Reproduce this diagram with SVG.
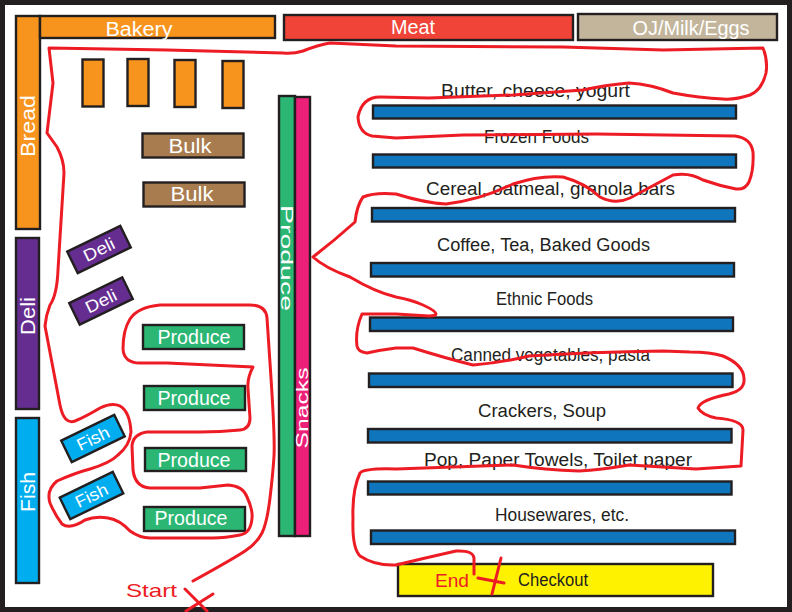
<svg xmlns="http://www.w3.org/2000/svg" width="792" height="612" viewBox="0 0 792 612">
<style>
.b{stroke:#231f20;stroke-width:2.4}
.w{font-family:"Liberation Sans",Arial,sans-serif;font-size:20px;fill:#fff;text-anchor:middle}
.s{font-size:17px}
.k{font-family:"Liberation Sans",Arial,sans-serif;font-size:18px;fill:#231f20}
.r{font-family:"Liberation Sans",Arial,sans-serif;font-size:19px;fill:#ed1c24}
.bar{fill:#0f75bc}.or{fill:#f7941d}.gr{fill:#2bb673}.br{fill:#a97c50}.pu{fill:#662d91}.cy{fill:#00aeef}
.route{fill:none;stroke:#ed1c24;stroke-width:3;stroke-linecap:round;stroke-linejoin:round}
</style>
<rect width="792" height="612" fill="#231f20"/>
<rect x="5" y="5" width="782" height="602" fill="#fff"/>
<g id="bread"><rect class="b or" x="16" y="16" width="24" height="213"/><text class="w" transform="translate(35,126) rotate(-90)" textLength="62" lengthAdjust="spacingAndGlyphs">Bread</text></g>
<g id="bakery"><rect class="b or" x="40" y="16" width="235" height="22"/><text class="w" x="139" y="36" textLength="67" lengthAdjust="spacingAndGlyphs">Bakery</text></g>
<g id="meat"><rect class="b" fill="#f04438" x="284" y="15" width="289" height="25"/><text class="w" x="413" y="34" textLength="44" lengthAdjust="spacingAndGlyphs">Meat</text></g>
<g id="dairy"><rect class="b" fill="#c2b59b" x="578" y="14" width="199" height="26"/><text class="w" x="691" y="35" textLength="117" lengthAdjust="spacingAndGlyphs">OJ/Milk/Eggs</text></g>
<g id="deli-wall"><rect class="b pu" x="16" y="238" width="23" height="171"/><text class="w" transform="translate(35,316) rotate(-90)" textLength="38" lengthAdjust="spacingAndGlyphs">Deli</text></g>
<g id="fish-wall"><rect class="b cy" x="16" y="418" width="23" height="165"/><text class="w" transform="translate(35,492) rotate(-90)" textLength="40" lengthAdjust="spacingAndGlyphs">Fish</text></g>
<g id="orange-1"><rect class="b or" x="82.500" y="59.500" width="21" height="47"/></g>
<g id="orange-2"><rect class="b or" x="127.500" y="59" width="21" height="47"/></g>
<g id="orange-3"><rect class="b or" x="174.500" y="60" width="21" height="47"/></g>
<g id="orange-4"><rect class="b or" x="222.500" y="61" width="21" height="47"/></g>
<g id="bulk-1"><rect class="b br" x="142.500" y="133.500" width="101" height="24"/><text class="w" x="190" y="153" textLength="43" lengthAdjust="spacingAndGlyphs">Bulk</text></g>
<g id="bulk-2"><rect class="b br" x="143.500" y="182.500" width="101" height="24"/><text class="w" x="192" y="201" textLength="43" lengthAdjust="spacingAndGlyphs">Bulk</text></g>
<g id="deli-1" transform="translate(99,249.500) rotate(-26)"><rect class="b pu" x="-29.500" y="-12" width="59" height="24"/><text class="w s" y="6" textLength="33" lengthAdjust="spacingAndGlyphs">Deli</text></g>
<g id="deli-2" transform="translate(101,301) rotate(-26)"><rect class="b pu" x="-29.500" y="-12" width="59" height="24"/><text class="w s" y="6" textLength="33" lengthAdjust="spacingAndGlyphs">Deli</text></g>
<g id="fish-1" transform="translate(93,438.500) rotate(-26)"><rect class="b cy" x="-29.500" y="-12" width="59" height="24"/><text class="w s" y="6" textLength="34" lengthAdjust="spacingAndGlyphs">Fish</text></g>
<g id="fish-2" transform="translate(91.500,495.500) rotate(-26)"><rect class="b cy" x="-29.500" y="-12" width="59" height="24"/><text class="w s" y="6" textLength="34" lengthAdjust="spacingAndGlyphs">Fish</text></g>
<g id="produce-1"><rect class="b gr" x="143" y="325" width="101" height="24"/><text class="w" x="194" y="344" textLength="73" lengthAdjust="spacingAndGlyphs">Produce</text></g>
<g id="produce-2"><rect class="b gr" x="144" y="386" width="101" height="24"/><text class="w" x="194" y="405" textLength="73" lengthAdjust="spacingAndGlyphs">Produce</text></g>
<g id="produce-3"><rect class="b gr" x="145" y="448" width="101" height="23"/><text class="w" x="194" y="467" textLength="73" lengthAdjust="spacingAndGlyphs">Produce</text></g>
<g id="produce-4"><rect class="b gr" x="144" y="507" width="101" height="24"/><text class="w" x="191" y="525" textLength="73" lengthAdjust="spacingAndGlyphs">Produce</text></g>
<g id="produce-tall"><rect class="b gr" x="279" y="96" width="16" height="440"/><text class="w s" transform="translate(281,258) rotate(90)" textLength="106" lengthAdjust="spacingAndGlyphs">Produce</text></g>
<g id="snacks"><rect class="b" fill="#ed2079" x="295" y="97" width="15" height="439"/><text class="w s" transform="translate(308,408) rotate(-90)" textLength="81" lengthAdjust="spacingAndGlyphs">Snacks</text></g>
<g id="aisle-1"><rect class="b bar" x="373" y="105.500" width="363" height="13"/><text class="k" x="441" y="97" textLength="189" lengthAdjust="spacingAndGlyphs">Butter, cheese, yogurt</text></g>
<g id="aisle-2"><rect class="b bar" x="373" y="154.500" width="363" height="13"/><text class="k" x="484" y="143" textLength="105" lengthAdjust="spacingAndGlyphs">Frozen Foods</text></g>
<g id="aisle-3"><rect class="b bar" x="372" y="208" width="363" height="13.500"/><text class="k" x="426" y="195" textLength="249" lengthAdjust="spacingAndGlyphs">Cereal, oatmeal, granola bars</text></g>
<g id="aisle-4"><rect class="b bar" x="371" y="263" width="363" height="13.500"/><text class="k" x="437" y="251" textLength="213" lengthAdjust="spacingAndGlyphs">Coffee, Tea, Baked Goods</text></g>
<g id="aisle-5"><rect class="b bar" x="370" y="317.500" width="363" height="13.500"/><text class="k" x="496" y="305" textLength="97" lengthAdjust="spacingAndGlyphs">Ethnic Foods</text></g>
<g id="aisle-6"><rect class="b bar" x="369" y="373.500" width="363.500" height="13.500"/><text class="k" x="451" y="361" textLength="199" lengthAdjust="spacingAndGlyphs">Canned vegetables, pasta</text></g>
<g id="aisle-7"><rect class="b bar" x="368" y="429" width="363.500" height="13.500"/><text class="k" x="478" y="417" textLength="128" lengthAdjust="spacingAndGlyphs">Crackers, Soup</text></g>
<g id="aisle-8"><rect class="b bar" x="368" y="481.500" width="363.500" height="13"/><text class="k" x="424" y="466" textLength="268" lengthAdjust="spacingAndGlyphs">Pop, Paper Towels, Toilet paper</text></g>
<g id="aisle-9"><rect class="b bar" x="371" y="530.500" width="364" height="13.500"/><text class="k" x="495" y="521" textLength="134" lengthAdjust="spacingAndGlyphs">Housewares, etc.</text></g>
<g id="checkout"><rect class="b" fill="#fff200" x="398" y="564" width="315" height="32"/><text class="k" x="518" y="586" textLength="70" lengthAdjust="spacingAndGlyphs">Checkout</text></g>
<g id="connectors">
<path class="route" d="M193 581Q233 559 245 551Q257 543 262 533Q267 523 270 498Q273 473 274 456Q275 439 271 378L267 318Q266 305 250 305L160 305Q138 307 130 319Q123 330 123 349Q124 363 140 363L167 363L253 367Q247 378 248 389L250 418Q250 429 240 430Q220 432 200 432L147 432Q133 434 132 446L133 470Q135 487 150 488L200 488L228 485Q243 486 247 497Q253 510 252 518Q251 533 240 535Q225 538 213 538L150 538Q140 538 130 531Q120 520 108 518Q95 516 85 520Q70 530 62 524Q55 515 50 503Q46 490 57 481Q75 473 90 469Q110 463 118 455Q130 445 131 432Q130 412 120 406Q112 402 100 408Q85 417 75 421Q64 425 60 405L45 326Q46 315 50 305Q57 295 58 270L64 173Q64 160 57 147L47 133L53 83L49 48L167 50L283 53Q293 54 303 51Q318 45 330 43Q350 44 396 46L563 47L663 50L763 48Q768 60 766 73Q762 90 750 95Q735 100 723 99Q700 98 673 93Q650 84 629 83Q605 85 583 90L513 95L429 98L380 97Q362 97 358 117Q359 133 372 136L396 138L463 135L596 134L735 136Q751 138 753 152Q754 170 749 182Q745 190 736 189Q720 186 703 180Q690 172 673 175Q645 190 630 198Q615 205 600 197Q585 183 563 177Q540 175 513 184Q480 200 446 204Q425 203 396 194Q375 192 363 197Q357 205 355 222Q335 240 313 257Q325 268 350 277Q375 292 396 297Q412 300 423 305Q436 311 436 314Q436 316 429 316L396 314L362 314Q355 330 357 346Q358 352 367 353Q380 350 396 348L413 348Q445 358 473 365Q500 363 529 356Q590 352 663 351L690 352Q710 352 723 356Q744 365 744 379Q745 390 729 394Q700 400 698 408Q702 415 716 418Q743 420 743 430L741 466L696 469Q660 467 629 465Q600 470 579 471Q545 470 513 465L396 469Q365 468 360 473Q352 490 353 519Q352 548 360 556Q375 566 396 565Q425 558 456 551Q474 550 474 559L474 574"/>
<path class="route" d="M185 589L207 611M213 594L186 611"/>
<path class="route" stroke-width="3.500" d="M501 558L492 594M478 578L504 583"/>
</g>
<text class="r" x="126" y="597" textLength="51" lengthAdjust="spacingAndGlyphs">Start</text>
<text class="r" x="435" y="587" textLength="34" lengthAdjust="spacingAndGlyphs">End</text>
</svg>
